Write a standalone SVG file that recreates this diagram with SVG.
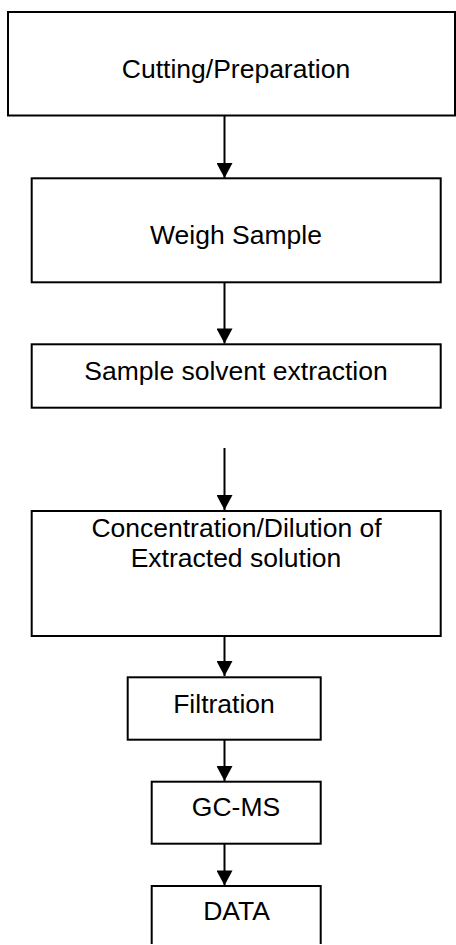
<svg xmlns="http://www.w3.org/2000/svg" width="456" height="945" viewBox="0 0 456 945">
<style>
.box{fill:#fff;stroke:#000;stroke-width:2}
.lbl{font-family:"Liberation Sans",Arial,sans-serif;font-size:26.5px;fill:#000;text-anchor:middle}
.con{stroke:#000;stroke-width:2;fill:none;marker-end:url(#ah)}
</style>
<defs>
<marker id="ah" markerUnits="userSpaceOnUse" markerWidth="16" markerHeight="16" viewBox="0 0 15 16" refX="15" refY="8" orient="auto">
<path d="M0,0 L15,8 L0,16 z" fill="#000"/>
</marker>
</defs>
<rect width="456" height="945" fill="#fff"/>
<g id="connectors">
<line class="con" x1="224.5" y1="116" x2="224.5" y2="178"/>
<line class="con" x1="224.5" y1="283" x2="224.5" y2="343.5"/>
<line class="con" x1="224.5" y1="448" x2="224.5" y2="510"/>
<line class="con" x1="224.5" y1="637" x2="224.5" y2="676"/>
<line class="con" x1="224.5" y1="740" x2="224.5" y2="781"/>
<line class="con" x1="224.5" y1="844" x2="224.5" y2="885.5"/>
</g>
<g id="n1"><rect class="box" x="8" y="12" width="447" height="103.5"/><text class="lbl" x="236" y="78">Cutting/Preparation</text></g>
<g id="n2"><rect class="box" x="31.7" y="178.3" width="409" height="104"/><text class="lbl" x="236" y="244">Weigh Sample</text></g>
<g id="n3"><rect class="box" x="31.7" y="344.3" width="409" height="63.4"/><text class="lbl" x="236" y="380">Sample solvent extraction</text></g>
<g id="n4"><rect class="box" x="31.7" y="511" width="409" height="125"/><text class="lbl" x="236.5" y="536.7">Concentration/Dilution of</text><text class="lbl" x="236" y="566.7">Extracted solution</text></g>
<g id="n5"><rect class="box" x="127.7" y="677.3" width="193" height="62.4"/><text class="lbl" x="224" y="712.7">Filtration</text></g>
<g id="n6"><rect class="box" x="151.7" y="781.7" width="169" height="62"/><text class="lbl" x="236" y="816">GC-MS</text></g>
<g id="n7"><path class="box" d="M151.7,944 V886 H320.7 V944" fill="none"/><text class="lbl" x="236.5" y="920">DATA</text></g>
</svg>
